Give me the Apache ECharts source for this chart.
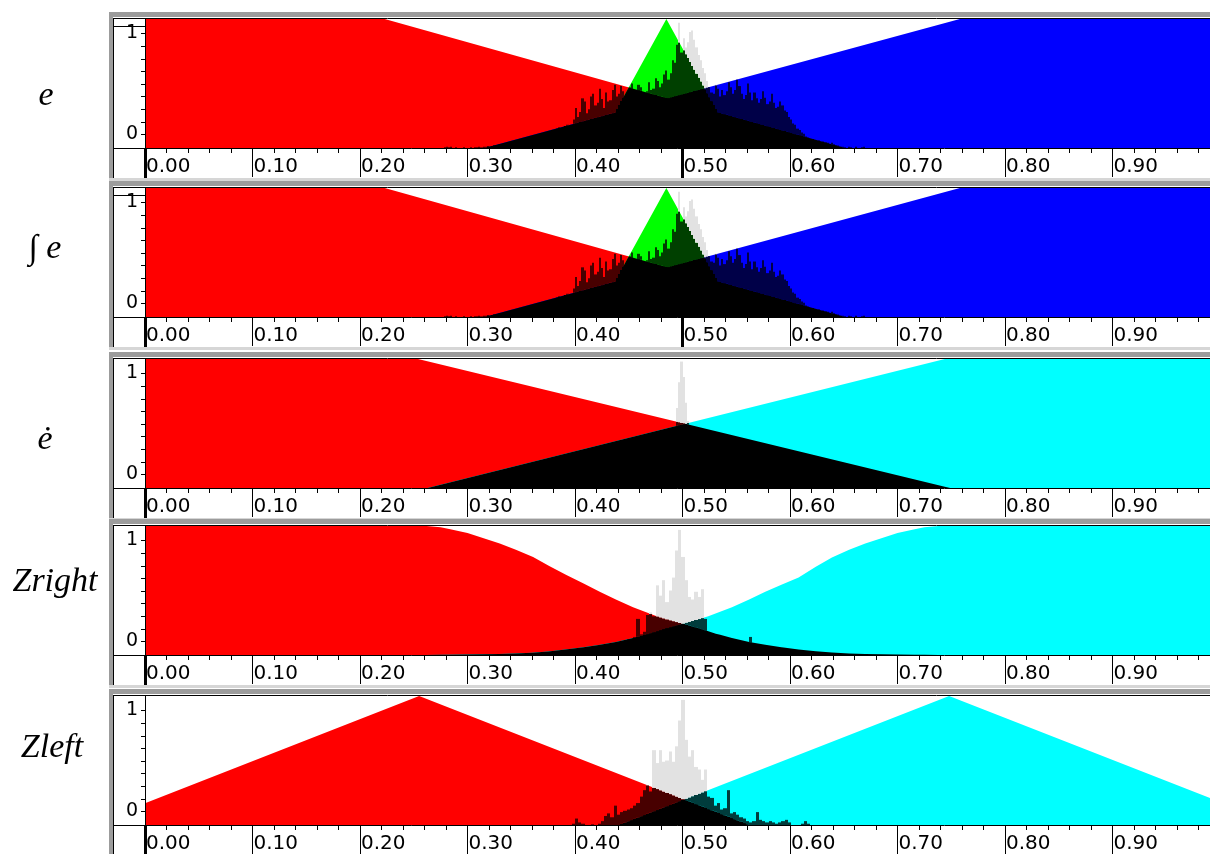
<!DOCTYPE html>
<html>
<head>
<meta charset="utf-8">
<script src="https://cdn.jsdelivr.net/npm/echarts@6/dist/echarts.min.js"></script>
<style>
  html, body { margin: 0; padding: 0; background: #ffffff; }
  #chart { width: 1210px; height: 854px; }
</style>
</head>
<body>
<div id="chart"></div>
<script>
// ---- Panel titles (left column), as rich-text templates ----
const PANEL_TITLES = ['{v|e}', '{s|\u222B} {v|e}', '{v|\u0117}', '{v|Zright}', '{v|Zleft}'];

// ---- Axis ticks ----
const X_TICKS = [0, 0.1, 0.2, 0.3, 0.4, 0.5, 0.6, 0.7, 0.8, 0.9];
const X_TICK_LABELS = ['0.00', '0.10', '0.20', '0.30', '0.40', '0.50', '0.60', '0.70', '0.80', '0.90'];
const Y_LABEL_TICKS = [0, 1];
const Y_TICK_LABELS = ['0', '1'];
const Y_MINOR_TICKS = [0, 0.125, 0.25, 0.375, 0.5, 0.625, 0.75, 0.875, 1];

// ---- Membership functions as [x, degree] breakpoints ----
// e and its integral
const E_RED   = [[0, 1], [0.223, 1], [0.651, 0], [1, 0]];
const E_GREEN = [[0, 0], [0.419, 0], [0.485, 1], [0.551, 0], [1, 0]];
const E_BLUE  = [[0, 0], [0.316, 0], [0.758, 1], [1, 1]];
// derivative of e
const DE_RED  = [[0, 1], [0.254, 1], [0.749, 0], [1, 0]];
const DE_CYAN = [[0, 0], [0.263, 0], [0.744, 1], [1, 1]];
// Zright (smooth shoulders)
const ZR_RED  = [[0, 1], [0.262, 1], [0.275, 0.99], [0.284, 0.975], [0.300, 0.945], [0.315, 0.905],
                 [0.330, 0.865], [0.345, 0.815], [0.361, 0.76], [0.376, 0.69], [0.392, 0.62],
                 [0.408, 0.555], [0.423, 0.49], [0.438, 0.43], [0.454, 0.37], [0.465, 0.335],
                 [0.476, 0.30], [0.488, 0.27], [0.499, 0.245], [0.516, 0.205], [0.531, 0.165],
                 [0.547, 0.13], [0.562, 0.10], [0.578, 0.078], [0.594, 0.058], [0.609, 0.042],
                 [0.625, 0.028], [0.640, 0.018], [0.656, 0.012], [0.671, 0.008], [0.700, 0.003],
                 [0.740, 0], [1, 0]];
const ZR_CYAN = [[0, 0], [0.260, 0], [0.300, 0.003], [0.329, 0.008], [0.344, 0.012], [0.360, 0.018],
                 [0.375, 0.028], [0.391, 0.042], [0.406, 0.058], [0.422, 0.078], [0.438, 0.10],
                 [0.453, 0.13], [0.469, 0.165], [0.484, 0.205], [0.501, 0.245], [0.512, 0.27],
                 [0.524, 0.30], [0.535, 0.335], [0.546, 0.37], [0.562, 0.43], [0.577, 0.49],
                 [0.592, 0.545], [0.608, 0.60], [0.624, 0.685], [0.639, 0.755], [0.655, 0.815],
                 [0.670, 0.865], [0.685, 0.905], [0.700, 0.945], [0.716, 0.975], [0.725, 0.99],
                 [0.738, 1], [1, 1]];
// Zleft (triangles)
const ZL_RED  = [[0, 0.168], [0.255, 1], [0.562, 0], [1, 0]];
const ZL_CYAN = [[0, 0], [0.441, 0], [0.748, 1], [1, 0.178]];

// ---- Sample histograms (normalised counts per bin) ----
const E_HIST_START = 0.270, E_HIST_BIN = 0.002;
const E_HIST = [
  // 0.270 - 0.300
  0.00, 0.00, 0.00, 0.00, 0.005, 0.01, 0.005, 0.01, 0.00, 0.005, 0.00, 0.00, 0.00, 0.005, 0.00,
  // 0.300 - 0.316
  0.00, 0.005, 0.00, 0.005, 0.005, 0.01, 0.005, 0.01,
  // 0.316 - 0.380
  0.01, 0.015, 0.01, 0.015, 0.02, 0.02, 0.025, 0.02, 0.03, 0.03, 0.035, 0.04, 0.04, 0.045, 0.05, 0.05,
  0.055, 0.06, 0.065, 0.07, 0.075, 0.08, 0.085, 0.09, 0.095, 0.10, 0.10, 0.11, 0.115, 0.12, 0.125, 0.13,
  // 0.380 - 0.480
  0.13, 0.15, 0.16, 0.14, 0.15, 0.17, 0.18, 0.16, 0.17, 0.22,
  0.31, 0.24, 0.28, 0.385, 0.36, 0.27, 0.30, 0.40, 0.42, 0.33,
  0.35, 0.46, 0.38, 0.31, 0.43, 0.36, 0.37, 0.45, 0.49, 0.40,
  0.42, 0.48, 0.44, 0.40, 0.41, 0.47, 0.50, 0.44, 0.43, 0.49,
  0.47, 0.41, 0.42, 0.44, 0.51, 0.45, 0.46, 0.54, 0.52, 0.47,
  // 0.480 - 0.580
  0.50, 0.57, 0.60, 0.53, 0.58, 0.68, 0.66, 0.80, 0.97, 0.74,
  0.85, 0.78, 0.82, 0.90, 0.91, 0.84, 0.78, 0.72, 0.68, 0.62,
  0.58, 0.52, 0.47, 0.43, 0.42, 0.49, 0.46, 0.40, 0.45, 0.41,
  0.44, 0.51, 0.47, 0.42, 0.45, 0.53, 0.48, 0.42, 0.38, 0.41,
  0.50, 0.43, 0.37, 0.43, 0.385, 0.35, 0.38, 0.44, 0.39, 0.34,
  // 0.580 - 0.672
  0.36, 0.42, 0.35, 0.31, 0.32, 0.36, 0.33, 0.29, 0.28, 0.24,
  0.22, 0.19, 0.18, 0.15, 0.14, 0.12, 0.11, 0.09, 0.08, 0.07,
  0.07, 0.06, 0.05, 0.06, 0.04, 0.05, 0.045, 0.04, 0.03, 0.04,
  0.03, 0.02, 0.02, 0.01, 0.01, 0.005, 0.00, 0.01, 0.005, 0.00,
  0.01, 0.00, 0.00, 0.005, 0.01, 0.00
];
const DE_HIST_START = 0.480, DE_HIST_BIN = 0.002;
const DE_HIST = [
  0.02, 0.04, 0.07, 0.12, 0.20, 0.30, 0.45, 0.62, 0.82, 0.98,
  0.86, 0.66, 0.52, 0.36, 0.24, 0.15, 0.09, 0.05, 0.03, 0.01
];
const ZR_HIST_START = 0.430, ZR_HIST_BIN = 0.003;
const ZR_HIST = [
  0.05, 0.06, 0.08, 0.07, 0.09, 0.10, 0.12, 0.11, 0.14, 0.28,
  0.16, 0.18, 0.31, 0.33, 0.30, 0.54, 0.46, 0.58, 0.41, 0.50,
  0.60, 0.81, 0.97, 0.76, 0.58, 0.45, 0.43, 0.49, 0.45, 0.51,
  0.28, 0.16, 0.12, 0.10, 0.09, 0.08, 0.07, 0.07, 0.06, 0.05,
  0.05, 0.05, 0.04, 0.04, 0.14, 0.04, 0.03, 0.03, 0.02, 0.02
];
const ZL_HIST_START = 0.397, ZL_HIST_BIN = 0.003;
const ZL_HIST = [
  0.01, 0.05, 0.02, 0.01, 0.00, 0.00, 0.005, 0.00, 0.01, 0.03,
  0.07, 0.09, 0.06, 0.15, 0.08, 0.10, 0.11, 0.12, 0.13, 0.15,
  0.17, 0.22, 0.27, 0.31, 0.26, 0.58, 0.48, 0.58, 0.49, 0.50,
  0.57, 0.49, 0.61, 0.81, 0.97, 0.66, 0.53, 0.58, 0.45, 0.43,
  0.35, 0.43, 0.22, 0.21, 0.15, 0.17, 0.12, 0.13, 0.27, 0.09,
  0.10, 0.08, 0.06, 0.05, 0.03, 0.02, 0.03, 0.10, 0.04, 0.03,
  0.02, 0.03, 0.02, 0.01, 0.02, 0.03, 0.04, 0.02, 0.00, 0.00,
  0.00, 0.01, 0.03, 0.01, 0.00
];

// ---- Colours ----
const RED = '#ff0000', GREEN = '#00ff00', BLUE = '#0000ff', CYAN = '#00ffff';
const DARK = { [RED]: '#480000', [GREEN]: '#004000', [BLUE]: '#000048', [CYAN]: '#003c3c' };
const HIST_GRAY = '#e2e2e2';
const FRAME_DARK = '#9c9c9c', FRAME_LIGHT = '#d6d6d6';

// ---- Panel setup ----
const PANELS = [
  { title: PANEL_TITLES[0], mfs: [[E_RED, RED], [E_GREEN, GREEN], [E_BLUE, BLUE]],
    hist: E_HIST, start: E_HIST_START, bin: E_HIST_BIN, top: 19, bold: [0, 0.5], notch: true, tx: 46, ty: 96 },
  { title: PANEL_TITLES[1], mfs: [[E_RED, RED], [E_GREEN, GREEN], [E_BLUE, BLUE]],
    hist: E_HIST, start: E_HIST_START, bin: E_HIST_BIN, top: 188, bold: [0, 0.5], notch: true, tx: 45, ty: 249 },
  { title: PANEL_TITLES[2], mfs: [[DE_RED, RED], [DE_CYAN, CYAN]],
    hist: DE_HIST, start: DE_HIST_START, bin: DE_HIST_BIN, top: 359, bold: [0], notch: false, tx: 45, ty: 440 },
  { title: PANEL_TITLES[3], mfs: [[ZR_RED, RED], [ZR_CYAN, CYAN]],
    hist: ZR_HIST, start: ZR_HIST_START, bin: ZR_HIST_BIN, top: 526, bold: [0], notch: false, tx: 55, ty: 582 },
  { title: PANEL_TITLES[4], mfs: [[ZL_RED, RED], [ZL_CYAN, CYAN]],
    hist: ZL_HIST, start: ZL_HIST_START, bin: ZL_HIST_BIN, top: 696, bold: [0], notch: false, tx: 52, ty: 748 }
];

const PLOT_LEFT = 145, PLOT_WIDTH = 1075, PLOT_HEIGHT = 129;
const TICK_FONT = '"DejaVu Sans", "Liberation Sans", Arial, sans-serif';
const TITLE_RICH = {
  v: { font: 'italic 34px "Liberation Serif", "Times New Roman", serif', color: '#000' },
  s: { font: '34px "Liberation Serif", "Times New Roman", serif', color: '#000' }
};

// Evaluate a piecewise-linear membership function
function evalPL(pts, x) {
  if (x <= pts[0][0]) return pts[0][1];
  for (let i = 0; i < pts.length - 1; i++) {
    const a = pts[i], b = pts[i + 1];
    if (x <= b[0]) {
      if (b[0] === a[0]) return b[1];
      return a[1] + (x - a[0]) / (b[0] - a[0]) * (b[1] - a[1]);
    }
  }
  return pts[pts.length - 1][1];
}

function secondMax(fns, x) {
  const v = fns.map(f => evalPL(f, x)).sort((p, q) => q - p);
  return v.length > 1 ? v[1] : 0;
}

// Overlap of the fuzzy sets: the second-largest membership at each x.
// Vertices are all breakpoints plus every pairwise crossing.
function overlapOutline(fns) {
  let xs = [];
  fns.forEach(f => f.forEach(p => xs.push(p[0])));
  xs = Array.from(new Set(xs)).sort((a, b) => a - b);
  const extra = [];
  for (let k = 0; k < xs.length - 1; k++) {
    const a = xs[k], b = xs[k + 1];
    for (let i = 0; i < fns.length; i++) {
      for (let j = i + 1; j < fns.length; j++) {
        const d0 = evalPL(fns[i], a) - evalPL(fns[j], a);
        const d1 = evalPL(fns[i], b) - evalPL(fns[j], b);
        if (d0 * d1 < 0) extra.push(a + (b - a) * d0 / (d0 - d1));
      }
    }
  }
  xs = Array.from(new Set(xs.concat(extra))).sort((a, b) => a - b);
  return xs.map(x => [x, secondMax(fns, x)]);
}

// Histogram bins with the membership levels at each bin centre
function histItems(panel) {
  const fns = panel.mfs.map(m => m[0]);
  return panel.hist.map((h, k) => {
    const x0 = panel.start + k * panel.bin, x1 = x0 + panel.bin, c = (x0 + x1) / 2;
    const vals = fns.map(f => evalPL(f, c));
    let top = 0, idx = 0;
    vals.forEach((v, i) => { if (v > top) { top = v; idx = i; } });
    const sorted = vals.slice().sort((p, q) => q - p);
    const second = sorted.length > 1 ? sorted[1] : 0;
    return [x0, x1, h, second, top, idx];
  });
}

const option = {
  animation: false,
  backgroundColor: '#ffffff',
  grid: [], xAxis: [], yAxis: [], series: [],
  graphic: { elements: [] }
};

PANELS.forEach((p, i) => {
  const T = p.top, B = T + PLOT_HEIGHT;
  option.grid.push({
    left: PLOT_LEFT, top: T, width: PLOT_WIDTH, height: PLOT_HEIGHT,
    show: false, containLabel: false, outerBoundsMode: 'none'
  });

  // main x axis with labels and minor ticks
  option.xAxis.push({
    type: 'value', gridIndex: i, min: 0, max: 1, interval: 0.1, position: 'bottom', z: 6,
    axisLine: { show: true, onZero: false, lineStyle: { color: '#000', width: 1 } },
    axisTick: { show: true, length: 29, lineStyle: { color: '#000', width: 1 } },
    minorTick: { show: true, splitNumber: 5, length: 5, lineStyle: { color: '#000', width: 1 } },
    splitLine: { show: false }, minorSplitLine: { show: false },
    axisLabel: {
      customValues: X_TICKS,
      formatter: v => X_TICK_LABELS[Math.round(v * 10)],
      align: 'left', verticalAlign: 'top', margin: 9, padding: [0, 0, 0, 1],
      fontFamily: TICK_FONT, fontSize: 20, color: '#000'
    }
  });
  // heavy ticks
  option.xAxis.push({
    type: 'value', gridIndex: i, min: 0, max: 1, position: 'bottom', z: 7,
    axisLine: { show: false, onZero: false },
    axisTick: { show: true, customValues: p.bold, length: 30, lineStyle: { color: '#000', width: 3 } },
    axisLabel: { show: false }, splitLine: { show: false }
  });

  // data y axis (hidden)
  option.yAxis.push({ type: 'value', gridIndex: i, min: 0, max: 1, show: false });
  // y axis carrying the 0 / 1 labels
  option.yAxis.push({
    type: 'value', gridIndex: i, position: 'left', min: -0.1337, max: 1.1436, z: 6,
    axisLine: { show: true, onZero: false, lineStyle: { color: '#000', width: 1 } },
    axisTick: { show: true, customValues: Y_MINOR_TICKS, length: 4, inside: false, lineStyle: { color: '#000' } },
    axisLabel: {
      customValues: Y_LABEL_TICKS,
      formatter: v => Y_TICK_LABELS[Math.round(v)],
      margin: 7, fontFamily: TICK_FONT, fontSize: 19, color: '#000'
    },
    splitLine: { show: false }
  });

  const xi = i * 2, yi = i * 2;
  // fuzzy sets
  p.mfs.forEach(([pts, color]) => {
    option.series.push({
      type: 'line', xAxisIndex: xi, yAxisIndex: yi, data: pts, symbol: 'none',
      lineStyle: { width: 0, opacity: 0 }, areaStyle: { color: color, opacity: 1 },
      silent: true, z: 2
    });
  });
  // overlap region
  option.series.push({
    type: 'line', xAxisIndex: xi, yAxisIndex: yi, data: overlapOutline(p.mfs.map(m => m[0])),
    symbol: 'none', lineStyle: { width: 0, opacity: 0 }, areaStyle: { color: '#000', opacity: 1 },
    silent: true, z: 3
  });
  // histogram, shaded by the region it falls in
  const darks = p.mfs.map(m => DARK[m[1]]);
  option.series.push({
    type: 'custom', xAxisIndex: xi, yAxisIndex: yi, data: histItems(p),
    encode: { x: [0, 1], y: [2] }, clip: true, silent: true, z: 4,
    renderItem: function (params, api) {
      const x0 = api.value(0), x1 = api.value(1), h = api.value(2);
      const s = api.value(3), t = api.value(4), k = api.value(5);
      const children = [];
      const seg = (lo, hi, color) => {
        if (hi <= lo) return;
        const a = api.coord([x0, lo]), b = api.coord([x1, hi]);
        const xa = Math.round(a[0]), xb = Math.round(b[0]);
        children.push({
          type: 'rect',
          shape: { x: xa, y: b[1], width: Math.max(1, xb - xa), height: a[1] - b[1] },
          style: { fill: color }
        });
      };
      seg(0, Math.min(h, s), '#000');
      seg(s, Math.min(h, t), darks[k]);
      seg(t, h, HIST_GRAY);
      return { type: 'group', children: children };
    }
  });

  // panel frame
  const g = option.graphic.elements;
  g.push({ type: 'rect', z: 100, shape: { x: 109, y: T - 7, width: 1111, height: 5 }, style: { fill: FRAME_DARK } });
  g.push({ type: 'rect', z: 100, shape: { x: 109, y: T - 7, width: 4, height: 169 }, style: { fill: FRAME_DARK } });
  g.push({ type: 'rect', z: 100, shape: { x: 109, y: T + 159, width: 1111, height: 3 }, style: { fill: FRAME_LIGHT } });
  g.push({ type: 'line', z: 101, shape: { x1: 113, y1: T - 0.5, x2: 1220, y2: T - 0.5 }, style: { stroke: '#000', lineWidth: 1 } });
  g.push({ type: 'line', z: 101, shape: { x1: 113.5, y1: T - 1, x2: 113.5, y2: T + 159 }, style: { stroke: '#000', lineWidth: 1 } });
  g.push({ type: 'line', z: 101, shape: { x1: 113, y1: B + 0.5, x2: 146, y2: B + 0.5 }, style: { stroke: '#000', lineWidth: 1 } });
  if (p.notch) {
    g.push({ type: 'line', z: 101, shape: { x1: 113, y1: T + 7.5, x2: 145, y2: T + 7.5 }, style: { stroke: '#000', lineWidth: 1 } });
  }
  // panel title
  g.push({
    type: 'text', z: 101, x: p.tx, y: p.ty,
    style: {
      text: p.title, rich: TITLE_RICH, font: 'italic 34px "Liberation Serif", serif', fill: '#000',
      align: 'center', verticalAlign: 'middle', textAlign: 'center', textVerticalAlign: 'middle'
    }
  });
});

const chart = echarts.init(document.getElementById('chart'), null, { renderer: 'canvas' });
chart.setOption(option);
</script>
</body>
</html>
